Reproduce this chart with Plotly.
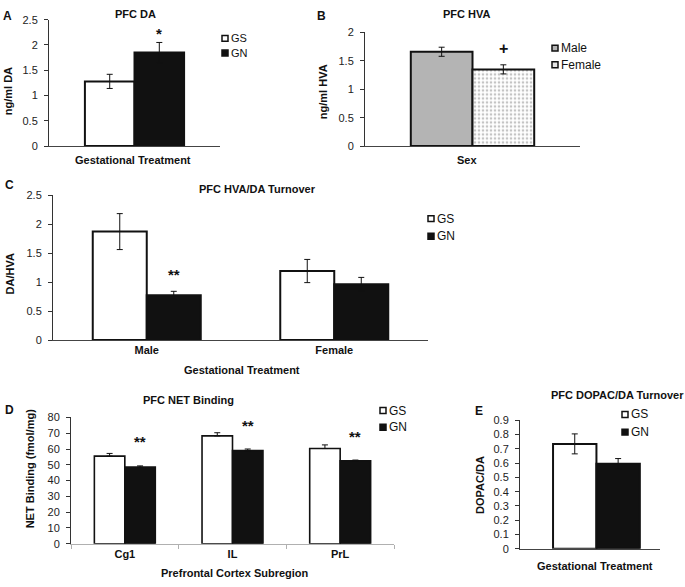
import plotly.graph_objects as go

W, H = 685, 587
FONT = "Liberation Sans, Arial, sans-serif"

# ---------------- data ----------------
groups = ["GS", "GN"]
sexes = ["Male", "Female"]

a_vals = [1.28, 1.85]
a_err = [0.14, 0.20]
a_sig = ["", "*"]

b_vals = [1.66, 1.35]
b_err = [0.08, 0.08]
b_sig = ["", "+"]

c_cats = ["Male", "Female"]
c_gs = [1.87, 1.19]
c_gs_err = [0.31, 0.20]
c_gn = [0.77, 0.96]
c_gn_err = [0.07, 0.12]
c_sig = ["**", ""]

d_cats = ["Cg1", "IL", "PrL"]
d_gs = [55.5, 68.3, 60.3]
d_gs_err = [1.7, 2.0, 2.3]
d_gn = [48.5, 59.0, 52.5]
d_gn_err = [0.8, 1.0, 0.5]
d_sig = ["**", "**", "**"]

e_vals = [0.735, 0.595]
e_err = [0.07, 0.037]

# ---------------- helpers ----------------
def px(x):
    return x / W

def py(y):
    return 1 - y / H

fig = go.Figure()
annotations = []
shapes = []

GS_COLOR = "white"
GN_COLOR = "#111111"
MALE_COLOR = "#b4b4b4"


def add_bar(xa, ya, x, y, err, color, offset, width, errminus=None, pattern=None, lw=2):
    marker = dict(color=color, line=dict(color="#111", width=lw))
    if pattern:
        marker["pattern"] = pattern
    ey = dict(type="data", array=err, color="#111", thickness=1, width=3)
    if errminus is not None:
        ey["symmetric"] = False
        ey["arrayminus"] = errminus
    fig.add_trace(go.Bar(x=x, y=y, error_y=ey, marker=marker, offset=offset,
                         width=width, xaxis=xa, yaxis=ya, showlegend=False))


def text(x, y, s, size=11, bold=False, angle=0, xanchor="center", yanchor="middle"):
    annotations.append(dict(x=px(x), y=py(y), xref="paper", yref="paper", text=s,
                            showarrow=False, textangle=angle, borderpad=0,
                            font=dict(family=FONT, size=size, color="#111",
                                      weight="bold" if bold else "normal"),
                            xanchor=xanchor, yanchor=yanchor))


def legend(x, ys, labels, fills, size=11):
    for yy, lab, fill in zip(ys, labels, fills):
        shapes.append(dict(type="rect", xref="paper", yref="paper",
                           x0=px(x), x1=px(x + 6), y0=py(yy + 3), y1=py(yy - 3),
                           line=dict(color="#111", width=1.5), fillcolor=fill))
        text(x + 8, yy, lab, size=size, xanchor="left")


def sig(xa, ya, xpos, ypos, s, shift, size=15):
    for xx, yy, ss in zip(xpos, ypos, s):
        if ss:
            annotations.append(dict(x=xx, y=yy, xref=xa, yref=ya, text=ss, showarrow=False,
                                    yanchor="middle", yshift=shift,
                                    font=dict(family=FONT, size=size, color="#111",
                                              weight="bold")))


# ---------------- panel A ----------------
wA = 0.29
add_bar("x", "y", ["A"], [a_vals[0]], [a_err[0]], GS_COLOR, -wA, wA)
add_bar("x", "y", ["A"], [a_vals[1]], [a_err[1]], GN_COLOR, 0, wA)
sig("x", "y", [wA / 2], [a_vals[1] + a_err[1]], [a_sig[1]], 9)

# ---------------- panel B ----------------
wB = 0.287
add_bar("x2", "y2", ["B"], [b_vals[0]], [b_err[0]], MALE_COLOR, -wB, wB)
add_bar("x2", "y2", ["B"], [b_vals[1]], [b_err[1]], "white", 0, wB,
        pattern=dict(shape=".", fgcolor="#8a8a8a", bgcolor="white", size=4, solidity=0.35))
sig("x2", "y2", [wB / 2], [b_vals[1] + b_err[1]], [b_sig[1]], 16, size=16)

# ---------------- panel C ----------------
wC = 0.288
add_bar("x3", "y3", c_cats, c_gs, c_gs_err, GS_COLOR, -wC, wC)
add_bar("x3", "y3", c_cats, c_gn, c_gn_err, GN_COLOR, 0, wC)
sig("x3", "y3", [i + wC / 2 for i in range(len(c_cats))],
    [v + e for v, e in zip(c_gn, c_gn_err)], c_sig, 17)

# ---------------- panel D ----------------
wD = 0.283
add_bar("x4", "y4", d_cats, d_gs, d_gs_err, GS_COLOR, -wD, wD, errminus=[0] * 3, lw=1.6)
add_bar("x4", "y4", d_cats, d_gn, d_gn_err, GN_COLOR, 0, wD, errminus=[0] * 3, lw=1.6)
sig("x4", "y4", [i + wD / 2 for i in range(len(d_cats))],
    [v + e for v, e in zip(d_gn, d_gn_err)], d_sig, 24)

# ---------------- panel E ----------------
wE = 0.31
add_bar("x5", "y5", ["E"], [e_vals[0]], [e_err[0]], GS_COLOR, -wE, wE)
add_bar("x5", "y5", ["E"], [e_vals[1]], [e_err[1]], GN_COLOR, 0, wE)

# ---------------- axes ----------------
tickfont = dict(family=FONT, size=11, color="#222")


def yaxis(dom, rng, dtick, anchor):
    return dict(domain=[py(dom[0]), py(dom[1])], range=rng, dtick=dtick, anchor=anchor,
                showgrid=False, zeroline=False, showline=True, linecolor="#333", linewidth=1,
                ticks="outside", ticklen=4, tickcolor="#333", tickfont=tickfont,
                ticklabelstandoff=4, fixedrange=True)


def xaxis(dom, anchor, labels=False, rng=None, linecolor="#444", ticks=""):
    d = dict(domain=[px(dom[0]), px(dom[1])], anchor=anchor, type="category",
             showgrid=False, zeroline=False, showline=True, linecolor=linecolor, linewidth=1,
             showticklabels=labels, ticks=ticks, fixedrange=True,
             tickfont=dict(family=FONT, size=11, color="#111", weight="bold"))
    if rng is not None:
        d["range"] = rng
    return d


layout = dict(
    width=W, height=H, margin=dict(l=0, r=0, t=0, b=0),
    paper_bgcolor="white", plot_bgcolor="white", barmode="overlay",
    xaxis=xaxis([49, 220], "y"),
    yaxis=yaxis([143, 14], [0, 2.5], 0.5, "x"),
    xaxis2=xaxis([365, 580], "y2"),
    yaxis2=yaxis([143, 27], [0, 2], 0.5, "x2"),
    xaxis3=xaxis([53, 428], "y3", labels=True),
    yaxis3=yaxis([341, 193], [0, 2.5], 0.5, "x3"),
    xaxis4=xaxis([71, 394], "y4", labels=True, linecolor="#b0b0b0", ticks="outside"),
    yaxis4=yaxis([549, 420], [0, 80], 10, "x4"),
    xaxis5=xaxis([520, 660], "y5", rng=[-0.546, 0.454]),
    yaxis5=yaxis([554, 423], [0, 0.9], 0.1, "x5"),
)
layout["xaxis4"].update(tickson="boundaries", ticklen=4, tickcolor="#b0b0b0")

fig.update_layout(**layout)

# ---------------- texts ----------------
# panel letters
text(2, 10, "A", size=12, bold=True, xanchor="left")
text(316, 10, "B", size=12, bold=True, xanchor="left")
text(4, 183, "C", size=12, bold=True, xanchor="left")
text(4, 412, "D", size=12, bold=True, xanchor="left")
text(474, 413, "E", size=12, bold=True, xanchor="left")

# titles
text(135, 8, "PFC DA", size=11, bold=True)
text(467, 8, "PFC HVA", size=11, bold=True)
text(257, 187, "PFC HVA/DA Turnover", size=11, bold=True)
text(188, 402, "PFC NET Binding", size=11, bold=True)
text(617, 397, "PFC DOPAC/DA Turnover", size=11, bold=True)

# axis titles
text(133, 157, "Gestational Treatment", size=11, bold=True)
text(467, 157, "Sex", size=11, bold=True)
text(242, 372, "Gestational Treatment", size=11, bold=True)
text(235, 579, "Prefrontal Cortex Subregion", size=11, bold=True)
text(595, 572, "Gestational Treatment", size=11, bold=True)
text(8, 87, "ng/ml DA", size=11, bold=True, angle=-90)
text(323, 88, "ng/ml HVA", size=11, bold=True, angle=-90)
text(10, 274, "DA/HVA", size=11, bold=True, angle=-90)
text(30, 473, "NET Binding (fmol/mg)", size=11, bold=True, angle=-90)
text(480, 489, "DOPAC/DA", size=11, bold=True, angle=-90)

# legends
legend(222, [33, 48], groups, [GS_COLOR, GN_COLOR])
legend(552, [43, 60], sexes, [MALE_COLOR, "#e6e6e6"], size=12)
legend(428, [217, 235], groups, [GS_COLOR, GN_COLOR], size=12)
legend(380, [413, 430], groups, [GS_COLOR, GN_COLOR], size=12)
legend(622, [417, 435], groups, [GS_COLOR, GN_COLOR], size=12)

fig.update_layout(annotations=annotations, shapes=shapes)

post = ("document.body.style.margin='0';"
        "document.body.style.overflow='hidden';"
        "var gd=document.getElementById('{plot_id}');"
        "gd.parentElement.style.lineHeight='0';")

fig.write_html("out.html", post_script=post, config={"displayModeBar": False})
